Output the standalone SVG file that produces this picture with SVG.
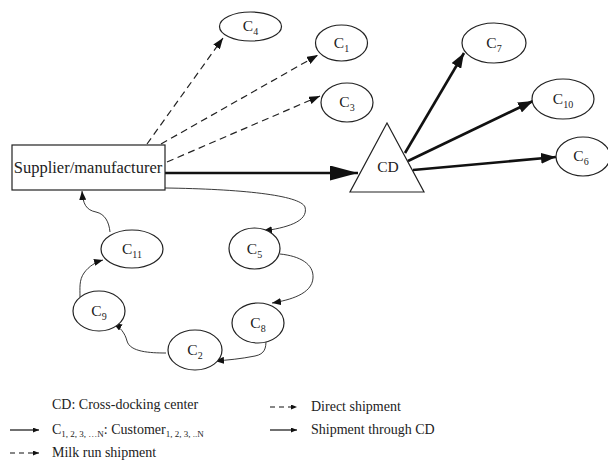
<svg xmlns="http://www.w3.org/2000/svg" width="608" height="464" viewBox="0 0 608 464">
  <style>
    text { font-family: "Liberation Serif", "DejaVu Serif", serif; fill: #222; }
    .node { fill: #fff; stroke: #222; stroke-width: 1.2; }
    .lbl { font-size: 15.5px; text-anchor: middle; }
    .sub { font-size: 10px; }
    .direct { fill: none; stroke: #222; stroke-width: 1.2; stroke-dasharray: 7 4.5; }
    .thick { fill: none; stroke: #111; stroke-width: 2.6; }
    .milk { fill: none; stroke: #222; stroke-width: 0.9; }
    .leg { font-size: 14px; }
  </style>
  <defs>
    <marker id="headMid" markerUnits="userSpaceOnUse" markerWidth="11" markerHeight="8" refX="11" refY="4" orient="auto">
      <path d="M0,0 L11,4 L0,8 z" fill="#111"/>
    </marker>
    <marker id="headBig" markerUnits="userSpaceOnUse" markerWidth="28" markerHeight="15" refX="28" refY="7.5" orient="auto">
      <path d="M0,0 L28,7.5 L0,15 z" fill="#111"/>
    </marker>
    <marker id="headThick" markerUnits="userSpaceOnUse" markerWidth="15" markerHeight="11" refX="15" refY="5.5" orient="auto">
      <path d="M0,0 L15,5.5 L0,11 z" fill="#111"/>
    </marker>
    <marker id="headSmall" markerUnits="userSpaceOnUse" markerWidth="9" markerHeight="7" refX="9" refY="3.5" orient="auto">
      <path d="M0,0 L9,3.5 L0,7 z" fill="#111"/>
    </marker>
    <marker id="headLeg" markerUnits="userSpaceOnUse" markerWidth="6" markerHeight="5" refX="6" refY="2.5" orient="auto">
      <path d="M0,0 L6,2.5 L0,5 z" fill="#111"/>
    </marker>
  </defs>

  <!-- connectors -->
  <g id="connectors">
    <!-- direct shipments -->
    <path class="direct" d="M147,144 L223,38" marker-end="url(#headMid)"/>
    <path class="direct" d="M161,144 L318,55" marker-end="url(#headMid)"/>
    <path class="direct" d="M167,162 L320,96" marker-end="url(#headMid)"/>
    <!-- shipment through CD -->
    <path class="thick" d="M165,173 L358,173" marker-end="url(#headBig)"/>
    <path class="thick" d="M405,153 L464,53" marker-end="url(#headThick)"/>
    <path class="thick" d="M408,161 L533,101" marker-end="url(#headThick)"/>
    <path class="thick" d="M413,170 L556,157" marker-end="url(#headThick)"/>
    <!-- milk run loop -->
    <path class="milk" d="M165,188 C240,189 300,195 305,207 C309,222 285,228 263,231" marker-end="url(#headSmall)"/>
    <path class="milk" d="M280,254 C300,256 314,264 313,278 C312,294 290,300 272,303" marker-end="url(#headSmall)"/>
    <path class="milk" d="M266,340 C266,348 265,354 255,356 C240,359 228,360 215,361" marker-end="url(#headSmall)"/>
    <path class="milk" d="M166,353 C150,353 130,352 127,341 C125,333 120,327 113,323" marker-end="url(#headSmall)"/>
    <path class="milk" d="M80,297 C80,288 79,280 84,273 C89,266 96,262 103,260" marker-end="url(#headSmall)"/>
    <path class="milk" d="M110,232 C109,222 105,214 96,212 C86,210 83,204 82,191" marker-end="url(#headSmall)"/>
  </g>

  <!-- supplier -->
  <g id="supplier">
    <rect class="node" x="12" y="145" width="153" height="45"/>
    <text x="88" y="173" font-size="16.5" text-anchor="middle">Supplier/manufacturer</text>
  </g>

  <!-- cross-docking center -->
  <g id="cd">
    <path class="node" d="M387,123 L424,192 L350,192 z"/>
    <text class="lbl" x="388" y="172">CD</text>
  </g>

  <!-- customers -->
  <g id="c4">
    <ellipse class="node" cx="250.5" cy="26.5" rx="31" ry="14.5"/>
    <text class="lbl" x="250.5" y="31">C<tspan class="sub" dy="4">4</tspan></text>
  </g>
  <g id="c1">
    <ellipse class="node" cx="341.5" cy="43" rx="26" ry="18"/>
    <text class="lbl" x="341.5" y="48">C<tspan class="sub" dy="4">1</tspan></text>
  </g>
  <g id="c3">
    <ellipse class="node" cx="347" cy="102.5" rx="26" ry="19.5"/>
    <text class="lbl" x="347" y="107">C<tspan class="sub" dy="4">3</tspan></text>
  </g>
  <g id="c7">
    <ellipse class="node" cx="494" cy="43" rx="32" ry="20"/>
    <text class="lbl" x="494" y="48">C<tspan class="sub" dy="4">7</tspan></text>
  </g>
  <g id="c10">
    <ellipse class="node" cx="563" cy="99" rx="31" ry="20"/>
    <text class="lbl" x="563" y="104">C<tspan class="sub" dy="4">10</tspan></text>
  </g>
  <g id="c6">
    <ellipse class="node" cx="583" cy="156.5" rx="27" ry="19.5"/>
    <text class="lbl" x="581" y="161">C<tspan class="sub" dy="4">6</tspan></text>
  </g>
  <g id="c11">
    <ellipse class="node" cx="132" cy="249" rx="31" ry="19"/>
    <text class="lbl" x="132" y="254">C<tspan class="sub" dy="4">11</tspan></text>
  </g>
  <g id="c5">
    <ellipse class="node" cx="254.5" cy="248.5" rx="25.5" ry="20.5"/>
    <text class="lbl" x="254.5" y="254">C<tspan class="sub" dy="4">5</tspan></text>
  </g>
  <g id="c9">
    <ellipse class="node" cx="99" cy="311" rx="26" ry="20"/>
    <text class="lbl" x="99" y="316">C<tspan class="sub" dy="4">9</tspan></text>
  </g>
  <g id="c8">
    <ellipse class="node" cx="258" cy="323" rx="26" ry="20"/>
    <text class="lbl" x="258" y="328">C<tspan class="sub" dy="4">8</tspan></text>
  </g>
  <g id="c2">
    <ellipse class="node" cx="195" cy="350" rx="27" ry="20"/>
    <text class="lbl" x="195" y="355">C<tspan class="sub" dy="4">2</tspan></text>
  </g>

  <!-- legend -->
  <g id="legend">
    <text class="leg" x="52" y="409">CD: Cross-docking center</text>
    <path d="M10,430 L39,430" stroke="#111" stroke-width="1.2" marker-end="url(#headLeg)"/>
    <text class="leg" x="52" y="434">C<tspan font-size="9" dy="3">1, 2, 3, …N</tspan><tspan dy="-3">: Customer</tspan><tspan font-size="9" dy="3">1, 2, 3, ..N</tspan></text>
    <path d="M10,453 L39,453" stroke="#111" stroke-width="1.2" stroke-dasharray="5 4" marker-end="url(#headLeg)"/>
    <text class="leg" x="52" y="457">Milk run shipment</text>
    <path d="M270,407 L297,407" stroke="#111" stroke-width="1.2" stroke-dasharray="5 4" marker-end="url(#headLeg)"/>
    <text class="leg" x="311" y="411">Direct shipment</text>
    <path d="M270,430 L297,430" stroke="#111" stroke-width="1.2" marker-end="url(#headLeg)"/>
    <text class="leg" x="311" y="434">Shipment through CD</text>
  </g>
</svg>
